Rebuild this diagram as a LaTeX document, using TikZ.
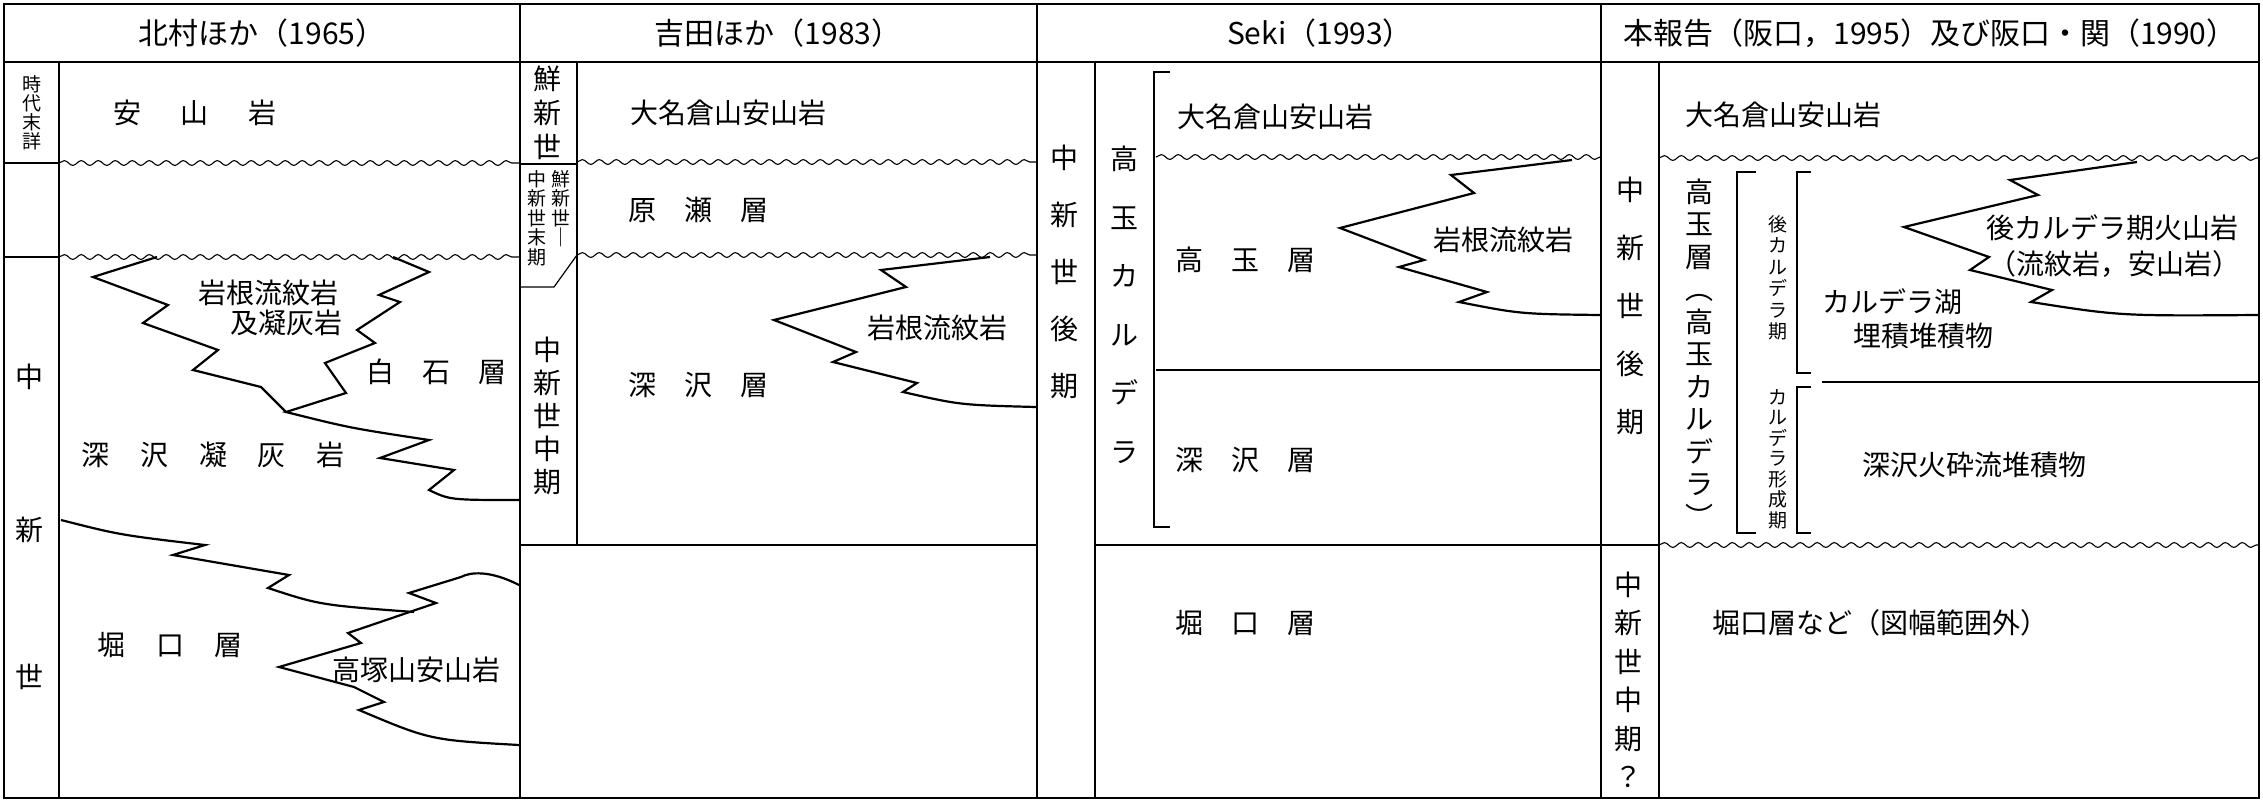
\documentclass[tikz,border=0pt]{standalone}
\usepackage{fontspec}
\setmainfont{Noto Sans CJK JP}
\usetikzlibrary{decorations.pathmorphing}
\begin{document}
\begin{tikzpicture}[x=1pt,y=-1pt,
  frame/.style={line width=1.6pt},
  thin/.style={line width=1.2pt},
  wavy/.style={line width=1.1pt,decorate,decoration={snake,segment length=17pt,amplitude=2.4pt}},
  tongue/.style={line width=2.2pt,line join=miter},
  t/.style={font=\fontsize{28}{30}\selectfont,inner sep=0pt},
  hd/.style={font=\fontsize{30}{32}\selectfont,inner sep=0pt},
  v/.style={font=\fontsize{28}{#1}\selectfont,inner sep=0pt,align=center},
  sv/.style={font=\fontsize{19}{#1}\selectfont,inner sep=0pt,align=center}]
\useasboundingbox (0,0) rectangle (2263,801);
% frame
\draw[frame] (4,4) rectangle (2259,798);
\draw[frame] (4,62) -- (2259,62);
\draw[frame] (520,4) -- (520,798);
\draw[frame] (1037,4) -- (1037,798);
\draw[frame] (1601,4) -- (1601,798);
% headers
\node[hd] (h1) at (262,33) {北村ほか（1965）};
\node[hd] (h2) at (778,33) {吉田ほか（1983）};
\node[hd] (h3) at (1320,33) {Seki（1993）};
\node[hd] (h4) at (1930,33) {本報告（阪口，1995）及び阪口・関（1990）};
% ---------- column 1
\draw[thin] (59,62) -- (59,798);
\draw[thin] (4,163) -- (59,163);
\draw[thin] (4,257) -- (59,257);
\draw[wavy] (59,163) -- (520,163);
\draw[wavy] (59,257) -- (520,257);
\node[sv=19] (c1a) at (32,113) {時\\代\\末\\詳};
\node[t] (c1b) at (195,113) {安\hspace{1.4em}山\hspace{1.4em}岩};
\node[t] (c1c) at (30,377) {中};
\node[t] (c1d) at (30,530) {新};
\node[t] (c1e) at (30,677) {世};
\draw[tongue] (157,257) -- (93,277) -- (168,305) -- (143,323) -- (218,350) -- (193,370) -- (261,387) -- (286,412);
\draw[tongue] (393,257) -- (429,272) -- (379,295) -- (400,302) -- (357,330) -- (375,343) -- (325,363) -- (346,393) -- (286,412)
  .. controls (350,428) .. (429,440) -- (380,458) -- (454,470) -- (429,490) .. controls (450,500) .. (519,500);
\draw[tongue] (61,520) .. controls (120,535) .. (205,545) -- (173,555) -- (289,575) -- (268,588) .. controls (320,605) .. (414,612);
\draw[tongue] (519,585) .. controls (490,570) and (470,572) .. (461,577) -- (409,593) -- (436,603) -- (348,633) -- (361,643) -- (279,667)
  -- (354,687) -- (384,702) -- (359,710) .. controls (430,740) .. (519,745);
\node[t] (c1f) at (268,293) {岩根流紋岩};
\node[t] (c1g) at (286,323) {及凝灰岩};
\node[t] (c1h) at (436,372) {白\hspace{1em}石\hspace{1em}層};
\node[t] (c1i) at (213,455) {深\hspace{1.1em}沢\hspace{1.1em}凝\hspace{1.1em}灰\hspace{1.1em}岩};
\node[t] (c1j) at (170,645) {堀\hspace{1.1em}口\hspace{1.1em}層};
\node[t] (c1k) at (416,670) {高塚山安山岩};
% ---------- column 2
\draw[thin] (577,62) -- (577,545);
\draw[thin] (520,164) -- (577,164);
\draw[thin] (520,287) -- (554,287) -- (577,255);
\draw[frame] (520,545) -- (1037,545);
\draw[wavy] (577,162) -- (1037,162);
\draw[wavy] (577,255) -- (1037,255);
\node[v=34] (c2a) at (547,113) {鮮\\新\\世};
\node[sv=19.5,anchor=north] (c2b) at (537,170) {中\\新\\世\\末\\期};
\node[sv=19.5,anchor=north] (c2c) at (561,170) {鮮\\新\\世\\｜};
\node[v=33] (c2d) at (547,416) {中\\新\\世\\中\\期};
\node[t,anchor=west] (c2e) at (630,113) {大名倉山安山岩};
\node[t,anchor=west] (c2f) at (628,210) {原\hspace{1em}瀬\hspace{1em}層};
\node[t,anchor=west] (c2g) at (628,385) {深\hspace{1em}沢\hspace{1em}層};
\node[t] (c2h) at (937,328) {岩根流紋岩};
\draw[tongue] (990,257) -- (881,270) -- (906,287) -- (774,320) -- (856,352) -- (833,362) -- (917,383) -- (903,392) .. controls (960,405) .. (1036,407);
% ---------- column 3
\draw[thin] (1095,62) -- (1095,798);
\draw[thin] (1170,72) -- (1154,72) -- (1154,527) -- (1170,527);
\draw[wavy] (1156,157) -- (1601,157);
\draw[thin] (1156,370) -- (1601,370);
\draw[frame] (1095,545) -- (1601,545);
\node[v=57] (c3a) at (1064,272) {中\\新\\世\\後\\期};
\node[v=58.5] (c3b) at (1124,305) {高\\玉\\カ\\ル\\デ\\ラ};
\node[t,anchor=west] (c3c) at (1177,117) {大名倉山安山岩};
\node[t,anchor=west] (c3d) at (1175,260) {高\hspace{1em}玉\hspace{1em}層};
\node[t] (c3e) at (1503,240) {岩根流紋岩};
\draw[tongue] (1572,160) -- (1451,175) -- (1474,193) -- (1340,228) -- (1424,260) -- (1399,267) -- (1487,292) -- (1459,302) .. controls (1520,314) .. (1600,315);
\node[t,anchor=west] (c3f) at (1175,460) {深\hspace{1em}沢\hspace{1em}層};
\node[t,anchor=west] (c3g) at (1175,623) {堀\hspace{1em}口\hspace{1em}層};
% ---------- column 4
\draw[thin] (1659,62) -- (1659,798);
\draw[thin] (1601,545) -- (1659,545);
\draw[wavy] (1659,158) -- (2259,158);
\draw[wavy] (1659,545) -- (2259,545);
\node[v=58] (c4a) at (1630,306) {中\\新\\世\\後\\期};
\node[v=32.5] (c4b) at (1699,353) {高\\玉\\層\\︵\\高\\玉\\カ\\ル\\デ\\ラ\\︶};
\draw[thin] (1756,172) -- (1737,172) -- (1737,533) -- (1756,533);
\node[sv=21.5] (c4c) at (1778,278) {後\\カ\\ル\\デ\\ラ\\期};
\draw[thin] (1811,172) -- (1797,172) -- (1797,373) -- (1811,373);
\draw[thin] (1822,382) -- (2259,382);
\draw[thin] (1811,387) -- (1797,387) -- (1797,533) -- (1811,533);
\node[sv=20.5] (c4d) at (1778,459) {カ\\ル\\デ\\ラ\\形\\成\\期};
\node[t,anchor=west] (c4e) at (1685,115) {大名倉山安山岩};
\node[t] (c4f) at (1892,302) {カルデラ湖};
\node[t] (c4g) at (1923,336) {埋積堆積物};
\node[t] (c4h) at (2112,228) {後カルデラ期火山岩};
\node[t] (c4i) at (2114,264) {（流紋岩，安山岩）};
\draw[tongue] (2137,162) -- (2010,180) -- (2038,195) -- (1904,227) -- (1989,257) -- (1970,270) -- (2052,290) -- (2031,302) .. controls (2120,316) .. (2258,315);
\node[t] (c4j) at (1974,465) {深沢火砕流堆積物};
\node[v=38.5] (c4k) at (1628,680) {中\\新\\世\\中\\期\\？};
\node[t,anchor=west] (c4l) at (1712,623) {堀口層など（図幅範囲外）};
\end{tikzpicture}
\end{document}
